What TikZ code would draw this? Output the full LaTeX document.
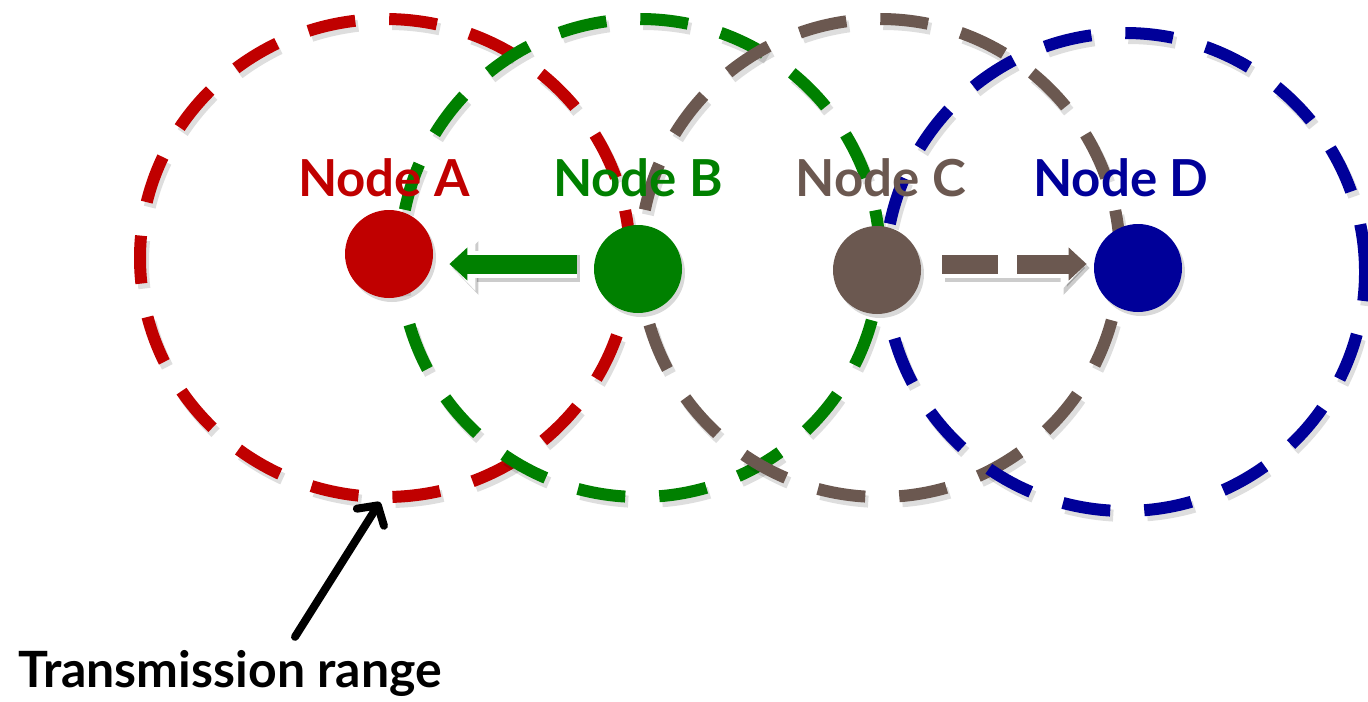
\documentclass[tikz,border=0pt]{standalone}
\usepackage{fontspec}
\setmainfont{Lato}
\usetikzlibrary{arrows.meta, positioning, shadows}
\definecolor{nodeA}{RGB}{192, 0, 0}
\definecolor{nodeB}{RGB}{0, 128, 0}
\definecolor{nodeC}{RGB}{107, 88, 80}
\definecolor{nodeD}{RGB}{0, 0, 153}

\begin{document}
\begin{tikzpicture}[
  x=0.5pt, y=-0.5pt,
  rangeline/.style={line width=6pt, dash pattern=on 24pt off 17pt,
    preaction={draw=black, opacity=0.13, line width=6pt, dash pattern=on 24pt off 17pt,
      transform canvas={shift={(1.5pt,-2.5pt)}}}},
  dot/.style={circle, minimum size=44pt, inner sep=0pt,
    drop shadow={opacity=0.3, shadow xshift=1.5pt, shadow yshift=-2pt}},
  lbl/.style={font=\fontsize{25.5}{28}\selectfont\bfseries, anchor=base},
  bigarrow/.style={line width=9.5pt, -{Triangle[length=9pt, width=16pt]},
    preaction={draw=black, opacity=0.2, line width=13.5pt, -{Triangle[length=13pt, width=26pt]},
      transform canvas={shift={(1.5pt,-2pt)}}},
    preaction={draw=white, line width=13.5pt, -{Triangle[length=13pt, width=26pt]}}},
  pointer/.style={line width=4pt, line cap=round, -{Straight Barb[length=7pt, width=16pt, round]}}
]
  \useasboundingbox (0,0) rectangle (1368,701);

  % transmission ranges
  \draw[rangeline, nodeA] (385,258) ellipse [x radius=122.5pt, y radius=119.5pt];
  \draw[rangeline, nodeB] (640,258) ellipse [x radius=120pt, y radius=119.5pt];
  \draw[rangeline, nodeC] (880,258) ellipse [x radius=120pt, y radius=119.5pt];
  \draw[rangeline, nodeD] (1125,272) ellipse [x radius=120pt, y radius=119.5pt];

  % the four nodes
  \node[dot, fill=nodeA] (a) at (389,254) {};
  \node[dot, fill=nodeB] (b) at (638,269) {};
  \node[dot, fill=nodeC] (c) at (877,270) {};
  \node[dot, fill=nodeD] (d) at (1138,268) {};

  \node[lbl, text=nodeA] (la) at (384,196) {Node A};
  \node[lbl, text=nodeB] (lb) at (638,196) {Node B};
  \node[lbl, text=nodeC] (lc) at (881,196) {Node C};
  \node[lbl, text=nodeD] (ld) at (1121,196) {Node D};

  % B sends to A, C to D (dashed)
  \draw[bigarrow, nodeB, shorten <=8.5pt, shorten >=8pt,
    preaction={shorten <=5.5pt, shorten >=4.5pt}]
    ([yshift=2.5pt]b.west) -- ([yshift=2.5pt]b.west -| a.east);
  \draw[bigarrow, nodeC, dash pattern=on 28pt off 9.5pt, shorten <=10.5pt, shorten >=3.5pt,
    preaction={dash pattern=on 32pt off 5.5pt, shorten <=8.5pt, shorten >=0pt}]
    ([yshift=3pt]c.east) -- ([yshift=3pt]c.east -| d.west);

  % label for the range
  \coordinate (edgeA) at (380,502);
  \node[font=\fontsize{25}{27}\selectfont\bfseries, anchor=base west] (trange) at (11,687) {Transmission range};
  \draw[pointer] ([xshift=142pt, yshift=3pt]trange.north west) -- (edgeA);
\end{tikzpicture}
\end{document}
